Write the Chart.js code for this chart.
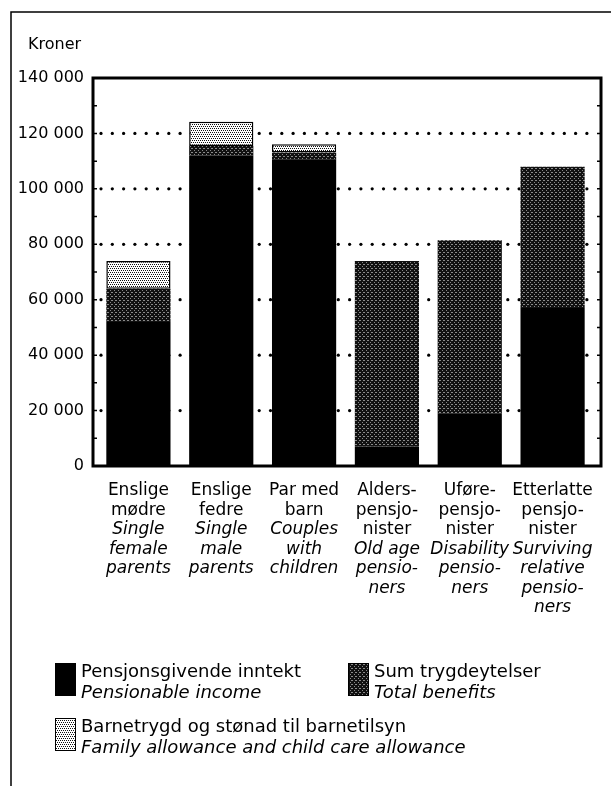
<!DOCTYPE html>
<html>
<head>
<meta charset="utf-8">
<script src="https://cdn.jsdelivr.net/npm/chart.js@4"></script>
<style>
  body { margin: 0; background: #fff; }
  canvas { display: block; }
</style>
</head>
<body>
<canvas id="myChart" width="611" height="786"></canvas>
<script>
// categories, Norwegian lines and English lines
const categoriesNo = [
  ['Enslige', 'mødre'],
  ['Enslige', 'fedre'],
  ['Par med', 'barn'],
  ['Alders-', 'pensjo-', 'nister'],
  ['Uføre-', 'pensjo-', 'nister'],
  ['Etterlatte', 'pensjo-', 'nister']
];
const categoriesEn = [
  ['Single', 'female', 'parents'],
  ['Single', 'male', 'parents'],
  ['Couples', 'with', 'children'],
  ['Old age', 'pensio-', 'ners'],
  ['Disability', 'pensio-', 'ners'],
  ['Surviving', 'relative', 'pensio-', 'ners']
];

// values in kroner
const pensionableIncome = [52000, 112000, 110700, 7000, 19000, 57000];
const totalBenefits = [12000, 3500, 2400, 67000, 62500, 51000];
const familyAllowance = [10000, 8700, 3000, 0, 0, 0];

const yTicks = [0, 20000, 40000, 60000, 80000, 100000, 120000, 140000];
const yTitle = 'Kroner';

const seriesNames = [
  ['Pensjonsgivende inntekt', 'Pensionable income'],
  ['Sum trygdeytelser', 'Total benefits'],
  ['Barnetrygd og stønad til barnetilsyn', 'Family allowance and child care allowance']
];

const FONT = '"DejaVu Sans", sans-serif';

function makePattern(bg, fg, dots) {
  const c = document.createElement('canvas');
  c.width = 4;
  c.height = 4;
  const g = c.getContext('2d');
  g.fillStyle = bg;
  g.fillRect(0, 0, 4, 4);
  g.fillStyle = fg;
  dots.forEach(d => g.fillRect(d[0], d[1], 1, 1));
  return g.createPattern(c, 'repeat');
}

const darkFill = makePattern('#111', '#8a8a8a', [[0, 0], [2, 2], [3, 0]]);
const lightFill = makePattern('#fff', '#111', [[0, 0], [2, 0], [1, 2], [3, 2]]);
const fills = ['#000', darkFill, lightFill];

function fmt(v) {
  return String(v).replace(/\B(?=(\d{3})+(?!\d))/g, ' ');
}

// dotted grid lines, drawn under the bars
const dottedGrid = {
  id: 'dottedGrid',
  beforeDatasetsDraw(chart) {
    const { ctx, chartArea, scales } = chart;
    const left = chartArea.left - 4;
    const right = chartArea.right + 7;
    ctx.save();
    ctx.fillStyle = '#000';
    yTicks.slice(1, -1).forEach(v => {
      const y = scales.y.getPixelForValue(v);
      for (let x = left + 8; x < right - 3; x += 11.3) {
        ctx.beginPath();
        ctx.arc(x, y, 1.6, 0, Math.PI * 2);
        ctx.fill();
      }
    });
    ctx.restore();
  }
};

// frame, axis title, category labels and legend
const decorations = {
  id: 'decorations',
  afterDraw(chart) {
    const { ctx, chartArea, scales } = chart;
    const left = chartArea.left - 4;
    const right = chartArea.right + 7;
    const top = scales.y.getPixelForValue(140000);
    const bottom = scales.y.getPixelForValue(0);
    ctx.save();

    // outer frame
    ctx.strokeStyle = '#000';
    ctx.lineWidth = 1.5;
    ctx.beginPath();
    ctx.moveTo(11, 786);
    ctx.lineTo(11, 12);
    ctx.lineTo(611, 12);
    ctx.stroke();

    // plot frame
    ctx.lineWidth = 3;
    ctx.strokeRect(left, top, right - left, bottom - top);

    // small inward ticks every 10 000
    ctx.lineWidth = 1.5;
    for (let v = 10000; v < 140000; v += 10000) {
      const y = scales.y.getPixelForValue(v);
      ctx.beginPath();
      ctx.moveTo(left, y);
      ctx.lineTo(left + 4, y);
      ctx.moveTo(right, y);
      ctx.lineTo(right - 4, y);
      ctx.stroke();
    }

    ctx.fillStyle = '#000';
    ctx.textBaseline = 'middle';
    ctx.textAlign = 'left';
    ctx.font = '16px ' + FONT;
    ctx.fillText(yTitle, 28, 45);

    // category labels
    ctx.textAlign = 'center';
    categoriesNo.forEach((lines, i) => {
      const x = scales.x.getPixelForValue(i);
      let y = 491;
      ctx.font = '17px ' + FONT;
      lines.forEach(t => { ctx.fillText(t, x, y); y += 19.5; });
      ctx.font = 'italic 17px ' + FONT;
      categoriesEn[i].forEach(t => { ctx.fillText(t, x, y); y += 19.5; });
    });

    // legend
    const items = [
      { x: 55, y: 663 },
      { x: 348, y: 663 },
      { x: 55, y: 718 }
    ];
    ctx.textAlign = 'left';
    items.forEach((it, i) => {
      ctx.fillStyle = fills[i];
      ctx.fillRect(it.x, it.y, 21, 33);
      ctx.lineWidth = 1;
      ctx.strokeRect(it.x + 0.5, it.y + 0.5, 20, 32);
      ctx.fillStyle = '#000';
      ctx.font = '18px ' + FONT;
      ctx.fillText(seriesNames[i][0], it.x + 26, it.y + 9);
      ctx.font = 'italic 18px ' + FONT;
      ctx.fillText(seriesNames[i][1], it.x + 26, it.y + 30);
    });
    ctx.restore();
  }
};

const ctx = document.getElementById('myChart').getContext('2d');

new Chart(ctx, {
  type: 'bar',
  data: {
    labels: categoriesNo.map(l => l.join(' ')),
    datasets: [
      { label: seriesNames[0][0], data: pensionableIncome, backgroundColor: fills[0], borderWidth: 0 },
      { label: seriesNames[1][0], data: totalBenefits, backgroundColor: fills[1], borderWidth: 0 },
      { label: seriesNames[2][0], data: familyAllowance, backgroundColor: fills[2], borderWidth: c => (c.raw ? 1.5 : 0) }
    ].map(d => Object.assign(d, {
      borderColor: '#000',
      borderSkipped: false,
      categoryPercentage: 1,
      barPercentage: 0.775
    }))
  },
  options: {
    responsive: false,
    animation: false,
    devicePixelRatio: 1,
    layout: { padding: { top: 78, right: 17, left: 0, bottom: 0 } },
    plugins: {
      legend: { display: false },
      tooltip: { enabled: false }
    },
    scales: {
      x: {
        stacked: true,
        grid: { display: false },
        border: { display: false },
        ticks: { display: false },
        afterFit(scale) { scale.height = 320; }
      },
      y: {
        stacked: true,
        min: 0,
        max: 140000,
        grid: { display: false, drawTicks: false },
        border: { display: false },
        afterBuildTicks(scale) { scale.ticks = yTicks.map(v => ({ value: v })); },
        afterFit(scale) { scale.width = 97; },
        ticks: {
          color: '#000',
          padding: 13,
          font: { family: FONT, size: 16 },
          callback: v => fmt(v)
        }
      }
    }
  },
  plugins: [dottedGrid, decorations]
});
</script>
</body>
</html>
